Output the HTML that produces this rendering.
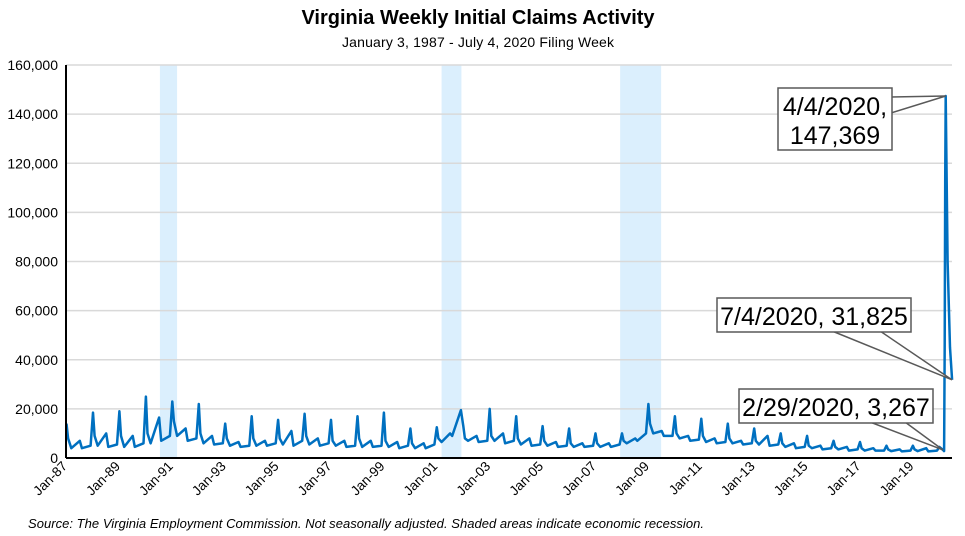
<!DOCTYPE html>
<html><head><meta charset="utf-8"><style>
body{margin:0;background:#fff;width:965px;height:536px;overflow:hidden}
svg{display:block;font-family:"Liberation Sans",sans-serif}
</style></head><body>
<svg width="965" height="536">
<text x="478" y="24" text-anchor="middle" font-size="20" font-weight="bold">Virginia Weekly Initial Claims Activity</text>
<text x="478" y="47" text-anchor="middle" font-size="14" textLength="272">January 3, 1987 - July 4, 2020 Filing Week</text>
<g id="rec"></g><g id="grid"></g><g id="ylab"></g><g id="xlab"></g>
<path id="line" fill="none" stroke="#0070c0" stroke-width="2.5" stroke-linejoin="round"/>
<line x1="66" y1="65" x2="66" y2="458" stroke="#000" stroke-width="2"/>
<line x1="66" y1="458" x2="952" y2="458" stroke="#000" stroke-width="2"/>
<g id="ann"></g>
<text x="28" y="528" font-size="13" font-style="italic" textLength="676">Source: The Virginia Employment Commission. Not seasonally adjusted. Shaded areas indicate economic recession.</text>
</svg>
<script>
const years=[];for(let y=1987;y<=2019;y++)years.push(y);
const offsets=[0.02,0.08,0.2,0.52,0.6,0.93];
const yearlyValues=[
[14000,8000,4000,7000,4000,5000],[18500,9000,5000,10000,4500,5500],[19000,9000,4500,9000,4500,6000],
[25000,10000,6000,16500,7000,9000],[23000,15000,9000,12000,7000,8000],[22000,10000,6000,9000,5500,6000],
[14000,8000,5000,6500,4500,5000],[17000,8000,5000,7000,5000,6000],[15500,8000,5500,11000,5000,7000],
[18000,9000,5500,8000,5000,6000],[15500,7000,5000,7000,4500,5000],[17000,8000,4500,7000,4500,5000],
[18500,7000,4500,6500,4000,5000],[12000,6000,4000,6000,4000,5500],[12500,8000,6500,10000,9000,19500],
[13000,8000,7000,9000,6500,7000],[20000,9000,7000,10000,6000,7000],[17000,8000,5500,8000,5000,5500],
[13000,7000,5000,6500,4500,5000],[12000,6000,4500,6000,4500,5000],[10000,6000,4500,6000,4500,5500],
[10000,7000,6000,8000,7000,10000],[22000,14000,10000,11000,9000,9000],[17000,10000,8000,9000,7000,7500],
[16000,9000,6500,8000,6000,6500],[14000,8000,6000,7000,5500,6000],[12000,7000,5500,9000,5000,5500],
[10000,6000,4500,6000,4000,4500],[9000,5000,4000,5000,3500,4000],[7000,4500,3500,4500,3000,3500],
[6500,4000,3000,4000,3000,3000],[5000,3500,2800,3500,2700,3000],[5000,3500,2800,4000,2700,3000]];
const dates2020=[2020.02,2020.16,2020.2,2020.22,2020.24,2020.26,2020.33,2020.42,2020.5];
const values2020=[4500,3267,2800,46000,112000,147369,80000,45000,31825];
const yTicks=[0,20000,40000,60000,80000,100000,120000,140000,160000];
const yTickLabels=["0","20,000","40,000","60,000","80,000","100,000","120,000","140,000","160,000"];
const xTickYears=[1987,1989,1991,1993,1995,1997,1999,2001,2003,2005,2007,2009,2011,2013,2015,2017,2019];
const xTickLabels=["Jan-87","Jan-89","Jan-91","Jan-93","Jan-95","Jan-97","Jan-99","Jan-01","Jan-03","Jan-05","Jan-07","Jan-09","Jan-11","Jan-13","Jan-15","Jan-17","Jan-19"];
const recessions=[[1990.55,1991.2],[2001.2,2001.95],[2007.95,2009.5]];
const X=t=>66+(t-1987)*26.45, Y=v=>458-v/160000*393;
const NS="http://www.w3.org/2000/svg";
function mk(tag,attrs,parent){const e=document.createElementNS(NS,tag);for(const k in attrs)e.setAttribute(k,attrs[k]);document.getElementById(parent).appendChild(e);return e;}
recessions.forEach(r=>{const e=mk('rect',{x:X(r[0]),y:65,width:X(r[1])-X(r[0]),height:393,fill:'#dbeffd'},'rec');

});
yTicks.forEach((v,i)=>{if(v>0){const l=mk('line',{x1:66,x2:952,y1:Y(v),y2:Y(v),stroke:'#d9d9d9','stroke-width':1.5},'grid');

}
const t=mk('text',{x:58,y:Y(v)+5,'text-anchor':'end','font-size':14},'ylab');t.textContent=yTickLabels[i];

});
xTickYears.forEach((y,i)=>{const x=X(y);const t=mk('text',{x:x+2,y:467,'text-anchor':'end','font-size':13.5,transform:`rotate(-45 ${x+2} 467)`},'xlab');t.textContent=xTickLabels[i];

});
let pts=[];years.forEach((y,i)=>offsets.forEach((o,j)=>pts.push([X(y+o),Y(yearlyValues[i][j])])));
dates2020.forEach((d,i)=>pts.push([X(d),Y(values2020[i])]));
document.getElementById('line').setAttribute('d','M'+pts.map(p=>p[0].toFixed(1)+','+p[1].toFixed(1)).join('L'));
function callout(name,bx,by,bw,bh,wedge,lines){
const g=mk('g',{},'ann');
const p=document.createElementNS(NS,'polygon');p.setAttribute('points',wedge);p.setAttribute('fill','#fff');p.setAttribute('stroke','#595959');p.setAttribute('stroke-width','1.5');g.appendChild(p);
const r=document.createElementNS(NS,'rect');[['x',bx],['y',by],['width',bw],['height',bh],['fill','#fff'],['stroke','#595959'],['stroke-width',1.5]].forEach(a=>r.setAttribute(a[0],a[1]));g.appendChild(r);
lines.forEach((s,i)=>{const t=document.createElementNS(NS,'text');t.setAttribute('x',bx+bw/2);t.setAttribute('y',by+27+i*29);t.setAttribute('text-anchor','middle');t.setAttribute('font-size','25');t.textContent=s;g.appendChild(t);});}
callout('callout-peak',778,88,114,62,`891,97 ${X(dates2020[5])},${Y(values2020[5])} 891,113`,["4/4/2020,","147,369"]);
callout('callout-july',717,298,194,34,`832,331 ${X(dates2020[8])},${Y(values2020[8])} 880,331`,["7/4/2020, 31,825"]);
callout('callout-feb',739,389,194,34,`870,422 ${X(dates2020[1])},${Y(values2020[1])} 905,422`,["2/29/2020, 3,267"]);
</script>
</body></html>
